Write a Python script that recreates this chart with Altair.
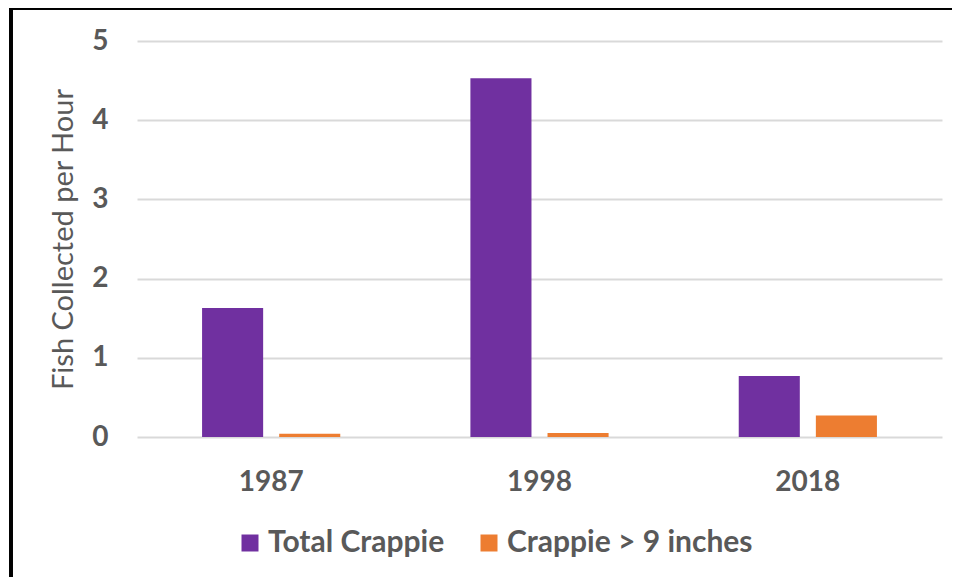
import altair as alt
import pandas as pd

years = ["1987", "1998", "2018"]
series = ["Total Crappie", "Crappie > 9 inches"]
total_crappie = [1.63, 4.53, 0.77]
crappie_over_9 = [0.04, 0.05, 0.27]
colors = ["#7030a0", "#ed7d31"]

rows = []
for i, y in enumerate(years):
    rows.append({"Year": y, "Series": series[0], "Value": total_crappie[i]})
    rows.append({"Year": y, "Series": series[1], "Value": crappie_over_9[i]})
df = pd.DataFrame(rows)

font = "Lato"
gray = "#595959"

bars = alt.Chart(df).mark_bar().encode(
    x=alt.X("Year:N", sort=years,
            scale=alt.Scale(paddingInner=0.485, paddingOuter=0.2425),
            axis=alt.Axis(title=None, labelAngle=0, ticks=False, domain=False,
                          labelPadding=31, labelFontSize=28, labelFont=font,
                          labelFontWeight="bold", labelColor=gray, grid=False)),
    xOffset=alt.XOffset("Series:N", sort=series,
                        scale=alt.Scale(paddingInner=0.208, paddingOuter=0)),
    y=alt.Y("Value:Q", scale=alt.Scale(domain=[0, 5], nice=False),
            axis=alt.Axis(title="Fish Collected per Hour", values=[0, 1, 2, 3, 4, 5],
                          ticks=False, domain=False, grid=True, gridColor="#d9d9d9",
                          gridWidth=2, labelPadding=29, labelFontSize=28,
                          labelFont=font, labelFontWeight="bold", labelColor=gray,
                          titleFont=font, titleFontSize=29, titleFontWeight="normal",
                          titleColor=gray, titlePadding=13)),
    color=alt.Color("Series:N", sort=series,
                    scale=alt.Scale(domain=series, range=colors),
                    legend=alt.Legend(title=None, orient="none", direction="horizontal",
                                      legendX=98, legendY=487,
                                      symbolType="square", symbolSize=289,
                                      symbolStrokeWidth=0, labelFont=font,
                                      labelFontSize=30, labelFontWeight="bold",
                                      labelColor=gray, labelOffset=3,
                                      columnPadding=29, padding=0, labelLimit=400)),
)

frame_top = alt.Chart(df).mark_rule(color="#000000", strokeWidth=3).encode(
    x=alt.value(-128), x2=alt.value(830), y=alt.value(-33)
)
frame_left = alt.Chart(df).mark_rule(color="#000000", strokeWidth=3).encode(
    x=alt.value(-126), y=alt.value(-34), y2=alt.value(560)
)

chart = alt.layer(bars, frame_top, frame_left).properties(
    width=805, height=396,
    background="white",
    autosize=alt.AutoSizeParams(type="none"),
    padding={"left": 129, "top": 33, "right": 10, "bottom": 140},
).configure_view(stroke=None)

chart.save("out.html", embed_options={"renderer": "svg", "actions": False})
